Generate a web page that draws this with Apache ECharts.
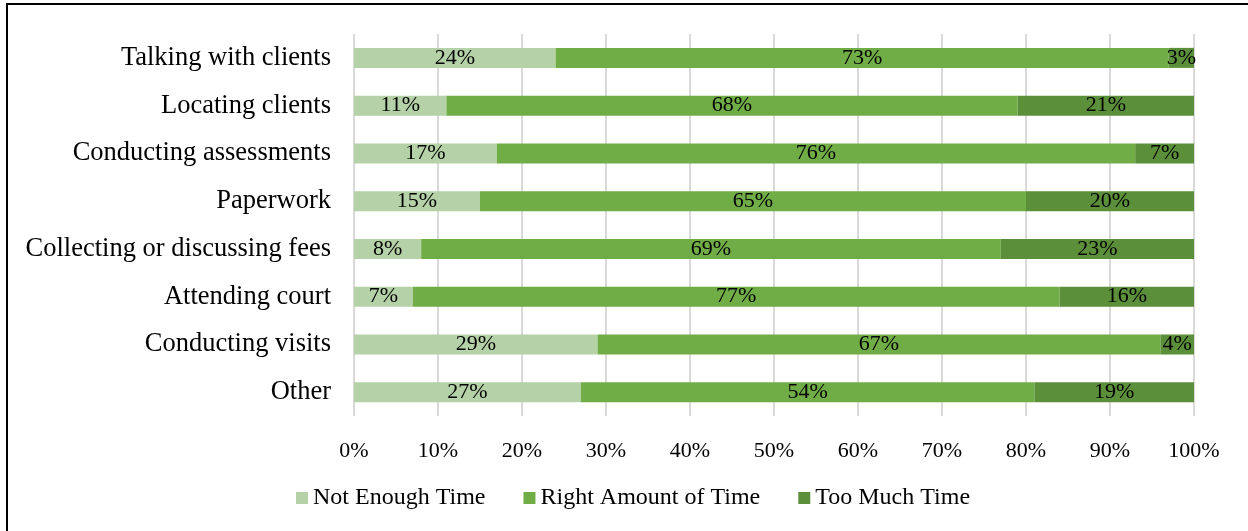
<!DOCTYPE html>
<html>
<head>
<meta charset="utf-8">
<script src="https://cdn.jsdelivr.net/npm/echarts@6/dist/echarts.min.js"></script>
<style>
  html, body { margin: 0; padding: 0; background: #fff; }
  #frame { position: absolute; left: 6px; top: 3px; width: 1260px; height: 560px; border: 2px solid #000; box-sizing: border-box; }
  #chart { position: absolute; left: 0; top: 0; width: 1248px; height: 531px; }
</style>
</head>
<body>
<div id="frame"></div>
<div id="chart"></div>
<script>
// Time spent on each activity, percent of respondents
const categories = [
  'Talking with clients',
  'Locating clients',
  'Conducting assessments',
  'Paperwork',
  'Collecting or discussing fees',
  'Attending court',
  'Conducting visits',
  'Other'
];
const notEnough   = [24, 11, 17, 15, 8, 7, 29, 27];
const rightAmount = [73, 68, 76, 65, 69, 77, 67, 54];
const tooMuch     = [3, 21, 7, 20, 23, 16, 4, 19];
const seriesNames = ['Not Enough Time', 'Right Amount of Time', 'Too Much Time'];
const xTicks = [0, 10, 20, 30, 40, 50, 60, 70, 80, 90, 100];

const FONT = '"Liberation Serif", "Times New Roman", serif';
const colors = ['#b5d1a7', '#70ad47', '#5b8f3a'];

const label = {
  show: true,
  position: 'inside',
  formatter: p => p.value + '%',
  color: '#000',
  fontFamily: FONT,
  fontSize: 22
};

function bar(name, data, color) {
  return {
    name, type: 'bar', stack: 'total', data,
    barWidth: 20,
    itemStyle: { color },
    label,
    emphasis: { disabled: true }
  };
}

const chart = echarts.init(document.getElementById('chart'), null, { renderer: 'canvas' });
chart.setOption({
  animation: false,
  grid: { left: 354, right: 54, top: 34, bottom: 115, containLabel: false },
  xAxis: {
    type: 'value',
    min: xTicks[0], max: xTicks[xTicks.length - 1], interval: 10,
    axisLine: { show: false },
    axisTick: { show: false },
    splitLine: { show: true, lineStyle: { color: '#d9d9d9', width: 2 } },
    axisLabel: {
      formatter: '{value}%',
      color: '#000', fontFamily: FONT, fontSize: 22, margin: 24
    }
  },
  yAxis: {
    type: 'category',
    data: categories,
    inverse: true,
    axisLine: { show: false },
    axisTick: { show: false },
    axisLabel: { color: '#000', fontFamily: FONT, fontSize: 26.5, margin: 23 }
  },
  legend: {
    top: 486,
    left: 296,
    padding: 0,
    itemWidth: 12, itemHeight: 12, itemGap: 38,
    icon: 'rect',
    textStyle: { color: '#000', fontFamily: FONT, fontSize: 24, padding: [0, 0, 0, 0] },
    data: seriesNames
  },
  series: [
    bar(seriesNames[0], notEnough, colors[0]),
    bar(seriesNames[1], rightAmount, colors[1]),
    bar(seriesNames[2], tooMuch, colors[2])
  ]
});
</script>
</body>
</html>
